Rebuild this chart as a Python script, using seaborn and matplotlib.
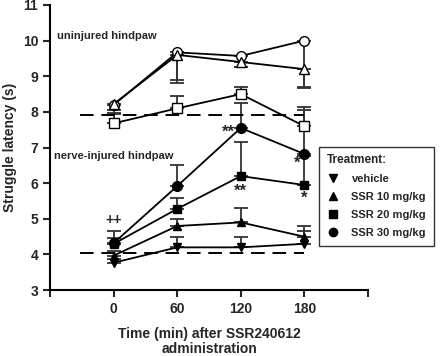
import matplotlib
matplotlib.use('Agg')
import matplotlib.pyplot as plt
from matplotlib.lines import Line2D
import seaborn as sns
import pandas as pd
import numpy as np

sns.set_style('ticks')
plt.rcParams['font.family'] = ['Liberation Sans', 'DejaVu Sans']
plt.rcParams['font.weight'] = 'bold'
plt.rcParams['axes.labelweight'] = 'bold'

times = [0, 60, 120, 180]
time_labels = ['0', '60', '120', '180']

# uninjured hindpaw (open markers)
un_ssr10 = [8.22, 9.60, 9.40, 9.20]
un_ssr20 = [7.68, 8.10, 8.50, 7.60]
un_ssr30 = [8.20, 9.67, 9.57, 10.00]
un_ssr10_lo = [0.25, 0.80, 0.15, 0.50]
un_ssr20_hi = [0.25, 0.34, 0.20, 0.53]
un_ssr30_lo = [0.15, 0.78, 0.30, 1.32]

# nerve-injured hindpaw (filled markers)
ni_vehicle = [3.77, 4.20, 4.20, 4.30]
ni_ssr10 = [3.97, 4.80, 4.90, 4.50]
ni_ssr20 = [4.30, 5.28, 6.20, 5.95]
ni_ssr30 = [4.32, 5.92, 7.55, 6.82]
ni_vehicle_hi = [0.10, 0.30, 0.30, 0.36]
ni_ssr10_hi = [0.12, 0.20, 0.40, 0.30]
ni_ssr20_hi = [0.15, 0.30, 0.95, 0.80]
ni_ssr30_hi = [0.33, 0.58, 0.70, 1.23]

# vehicle baselines (dashed)
base_x = [-32, 180]
base_uninjured = 7.92
base_injured = 4.05

series = [
    (un_ssr30, un_ssr30_lo, 'down', 'o', 'white', 7),
    (un_ssr10, un_ssr10_lo, 'down', '^', 'white', 7),
    (un_ssr20, un_ssr20_hi, 'up', 's', 'white', 7),
    (ni_vehicle, ni_vehicle_hi, 'up', 'v', 'black', 6),
    (ni_ssr10, ni_ssr10_hi, 'up', '^', 'black', 6),
    (ni_ssr20, ni_ssr20_hi, 'up', 's', 'black', 6),
    (ni_ssr30, ni_ssr30_hi, 'up', 'o', 'black', 7),
]

fig = plt.figure(figsize=(4.4, 3.56), dpi=100)
ax = fig.add_axes([0.114, 0.185, 0.722, 0.801])

for vals, err, d, mk, fc, ms in series:
    zeros = np.zeros(len(err))
    yerr = [zeros, err] if d == 'up' else [err, zeros]
    ax.errorbar(times, vals, yerr=yerr, fmt='none', ecolor='#333333',
                elinewidth=1.3, capsize=5, capthick=1.3, zorder=1)
    sns.lineplot(x=times, y=vals, ax=ax, color='black', linewidth=1.3,
                 marker=mk, markersize=ms, markerfacecolor=fc,
                 markeredgecolor='black', markeredgewidth=1.0, zorder=3)

for b in [base_uninjured, base_injured]:
    ax.plot(base_x, [b, b], color='black', linewidth=1.4,
            dashes=(7, 4), zorder=2)

ax.text(-54, 10.13, 'uninjured hindpaw', fontsize=8, fontweight='bold', va='center')
ax.text(-56, 6.75, 'nerve-injured hindpaw', fontsize=8, fontweight='bold', va='center')
ax.text(0, 4.97, '++', fontsize=10, fontweight='bold', ha='center', va='center')
ax.text(108, 7.42, '**', fontsize=12, fontweight='bold', ha='center', va='center')
ax.text(120, 5.78, '**', fontsize=12, fontweight='bold', ha='center', va='center')
ax.text(173, 6.55, '*', fontsize=12, fontweight='bold', ha='center', va='center')
ax.text(180, 5.58, '*', fontsize=12, fontweight='bold', ha='center', va='center')

ax.set_xlim(-60, 240)
ax.set_ylim(3, 11)
ax.set_xticks([-60] + times + [240])
ax.set_xticklabels([''] + time_labels + [''])
ax.set_yticks(range(3, 12))
ax.tick_params(axis='both', labelsize=10, width=1.5, length=5, direction='out')
for lab in ax.get_xticklabels() + ax.get_yticklabels():
    lab.set_fontweight('bold')
sns.despine(ax=ax)
for s in ['left', 'bottom']:
    ax.spines[s].set_linewidth(1.5)
    ax.spines[s].set_color('black')
ax.set_xlabel('Time (min) after SSR240612\nadministration', fontsize=10,
              fontweight='bold', labelpad=8, linespacing=1.1)
ax.set_ylabel('Struggle latency (s)', fontsize=10, fontweight='bold', labelpad=4)

handles = [Line2D([], [], color='black', marker=m, linestyle='none', markersize=6)
           for m in ['v', '^', 's', 'o']]
leg = fig.legend(handles, ['vehicle', 'SSR 10 mg/kg', 'SSR 20 mg/kg', 'SSR 30 mg/kg'],
                 title='Treatment:', loc='upper left', bbox_to_anchor=(0.713, 0.604),
                 title_fontsize=8.5, frameon=True, fancybox=False,
                 edgecolor='black', borderpad=0.7, handlelength=1.0,
                 handletextpad=1.2, labelspacing=0.72,
                 prop={'weight': 'bold', 'size': 8})
leg.get_title().set_fontweight('bold')
leg._legend_box.align = 'left'
leg.get_frame().set_linewidth(1.0)

fig.savefig('out.png', dpi=100)
